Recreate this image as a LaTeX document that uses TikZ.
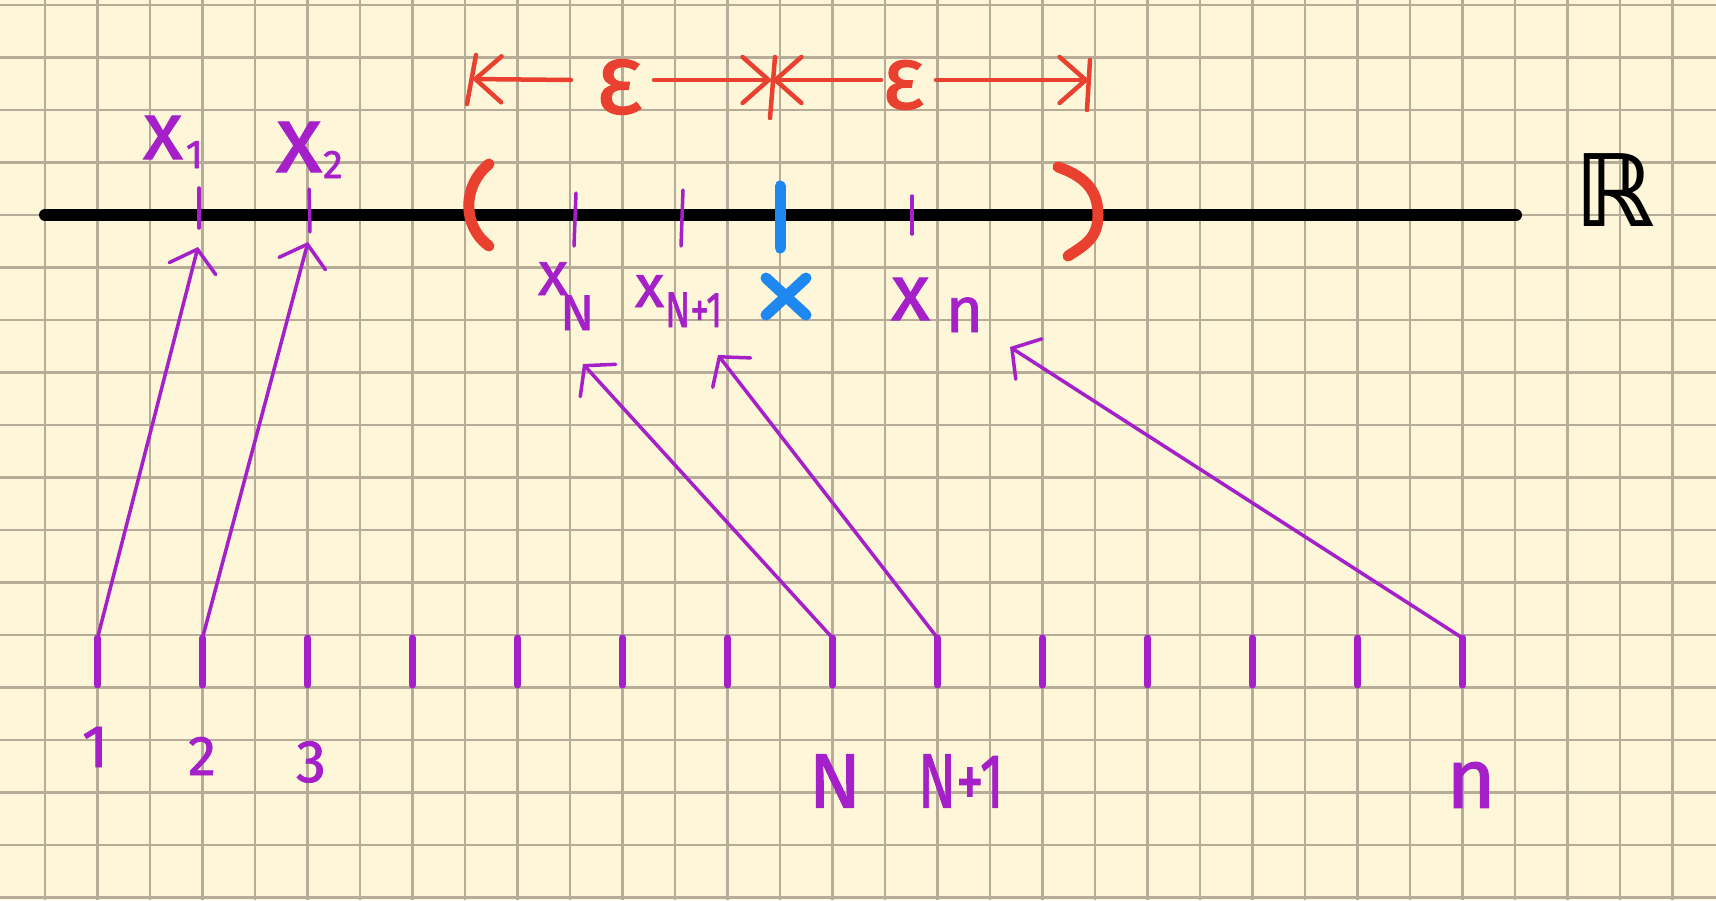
\documentclass[tikz,border=0pt]{standalone}
\usepackage{fontspec}
\setmainfont{Fira Sans}[FakeBold=1.3]
\newfontfamily\dejavu{DejaVu Sans}
\usetikzlibrary{arrows.meta}
\definecolor{paper}{RGB}{253,246,216}
\definecolor{gridc}{RGB}{182,172,152}
\definecolor{purp}{RGB}{165,32,200}
\definecolor{redc}{RGB}{234,64,48}
\definecolor{bluec}{RGB}{30,136,240}
\begin{document}
\begin{tikzpicture}[x=1pt,y=-1pt,
  gridline/.style={draw=gridc,line width=2.4pt},
  axisline/.style={draw=black,line width=12pt,line cap=round},
  ptick/.style={draw=purp,line width=3.5pt,line cap=round},
  btick/.style={draw=purp,line width=7pt,line cap=round},
  parr/.style={draw=purp,line width=3.5pt,line cap=round,
    -{Straight Barb[length=20pt,width=48pt,line cap=round]}},
  rline/.style={draw=redc,line width=4.5pt,line cap=round},
  rarr/.style={rline,-{Straight Barb[length=26pt,width=46pt,line cap=round]}},
  rparen/.style={draw=redc,line width=11pt,line cap=round},
  bstroke/.style={draw=bluec,line width=11pt,line cap=round},
  plab/.style={text=purp,inner sep=0pt,outer sep=0pt},
  elab/.style={text=redc,inner sep=0pt,outer sep=0pt},
]
\useasboundingbox (0,0) rectangle (1716,900);
\fill[paper] (0,0) rectangle (1716,900);
% grid
\foreach \k in {0,...,31} \draw[gridline] ({45+52.5*\k},0) -- ({45+52.5*\k},900);
\foreach \k in {0,...,17} \draw[gridline] (0,{5+52.5*\k}) -- (1716,{5+52.5*\k});

% real line
\coordinate (axL) at (45,215);
\coordinate (axR) at (1516,215);
\draw[axisline] (axL) -- (axR);
\node[text=black,inner sep=0pt,font=\dejavu\bfseries\fontsize{100}{100}\selectfont] (R) at (1615,190) {ℝ};

% epsilon brackets
\coordinate (lbT) at (476,55); \coordinate (lbB) at (467,104); \coordinate (lb) at (472,79);
\coordinate (mbT) at (775,57); \coordinate (mbB) at (770,118); \coordinate (mb) at (772,80);
\coordinate (rbT) at (1090,60); \coordinate (rbB) at (1087,110); \coordinate (rb) at (1089,80);
\draw[rline] (lbT) -- (lbB);
\draw[rline] (mbT) -- (mbB);
\draw[rline] (rbT) -- (rbB);
\coordinate (a1) at (571,80);
\coordinate (a2) at (654,80);
\coordinate (a3) at (881,80);
\coordinate (a4) at (936,80);
\draw[rarr] (a1) -- (lb);
\draw[rarr] (a2) -- (mb);
\draw[rarr] (a3) -- (mb);
\draw[rarr] (a4) -- (rb);
\node[elab,font=\fontsize{100}{100}\selectfont] (eps1) at (619,87) {ε};
\node[elab,font=\fontsize{90}{90}\selectfont] (eps2) at (903,85) {ε};

% interval parentheses
\draw[rparen] (489,164) .. controls (462,186) and (462,226) .. (489,246);
\draw[rparen] (1058,167) .. controls (1090,178) and (1098,195) .. (1098,215)
  .. controls (1098,238) and (1085,245) .. (1068,256);

% limit point
\draw[bstroke] (780,186) -- (780,248);
\coordinate (bxa) at (766,278); \coordinate (bxb) at (806,315);
\coordinate (bxc) at (806,278); \coordinate (bxd) at (766,315);
\draw[bstroke] (bxa) -- (bxb);
\draw[bstroke] (bxc) -- (bxd);

% sequence points on the line
\draw[ptick] (199,188) -- (199,228);
\draw[ptick] (309,189) -- (310,232);
\draw[ptick] (576,193) -- (574,246);
\draw[ptick] (683,190) -- (681,246);
\draw[ptick] (912,196) -- (912,234);

% labels of sequence points
\node[plab,anchor=base west,font=\fontsize{82}{82}\selectfont] (x1) at (143,159)
  {x\kern3pt\raisebox{-9pt}{\fontsize{40}{40}\selectfont 1}};
\node[plab,anchor=base west,font=\fontsize{95}{95}\selectfont] (x2) at (276,172)
  {x\kern1pt\raisebox{-6pt}{\fontsize{40}{40}\selectfont 2}};
\node[plab,anchor=base west,font=\fontsize{62}{62}\selectfont] (xN) at (538,295)
  {x\kern-8pt\raisebox{-35pt}{\fontsize{50}{50}\selectfont N}};
\node[plab,anchor=base west,font=\fontsize{60}{60}\selectfont] (xN1) at (635,307)
  {x\kern1pt\raisebox{-20pt}{\fontsize{50}{50}\selectfont\scalebox{0.74}[1]{N+1}}};
\node[plab,anchor=base west,font=\fontsize{80}{80}\selectfont] (xn) at (891,320)
  {x\kern16pt\raisebox{-12pt}{\fontsize{64}{64}\selectfont n}};

% index ticks
\foreach \i in {0,...,13} {
  \coordinate (b\i) at ({97.5+105*\i},638);
  \draw[btick] (b\i) -- ++(0,47);
}
\node[plab,font=\fontsize{60}{60}\selectfont] (n1) at (95,747) {1};
\node[plab,font=\fontsize{56}{56}\selectfont] (n2) at (202,756) {2};
\node[plab,font=\fontsize{60}{60}\selectfont] (n3) at (311,762) {3};
\node[plab,font=\fontsize{77}{77}\selectfont] (nN) at (835,781) {N};
\node[plab,font=\fontsize{77}{77}\selectfont] (nN1) at (961,781) {\scalebox{0.72}[1]{N+1}};
\node[plab,font=\fontsize{85}{85}\selectfont] (nn) at (1471,785) {n};

% mapping arrows
\coordinate (t1) at (198,247);
\coordinate (t2) at (308,242);
\coordinate (t3) at (583,364);
\coordinate (t4) at (718,355);
\coordinate (t5) at (1010,347);
\draw[parr] (b0) -- (t1);
\draw[parr] (b1) -- (t2);
\draw[parr] (b7) -- (t3);
\draw[parr] (b8) -- (t4);
\draw[parr] (b13) -- (t5);
\end{tikzpicture}
\end{document}
